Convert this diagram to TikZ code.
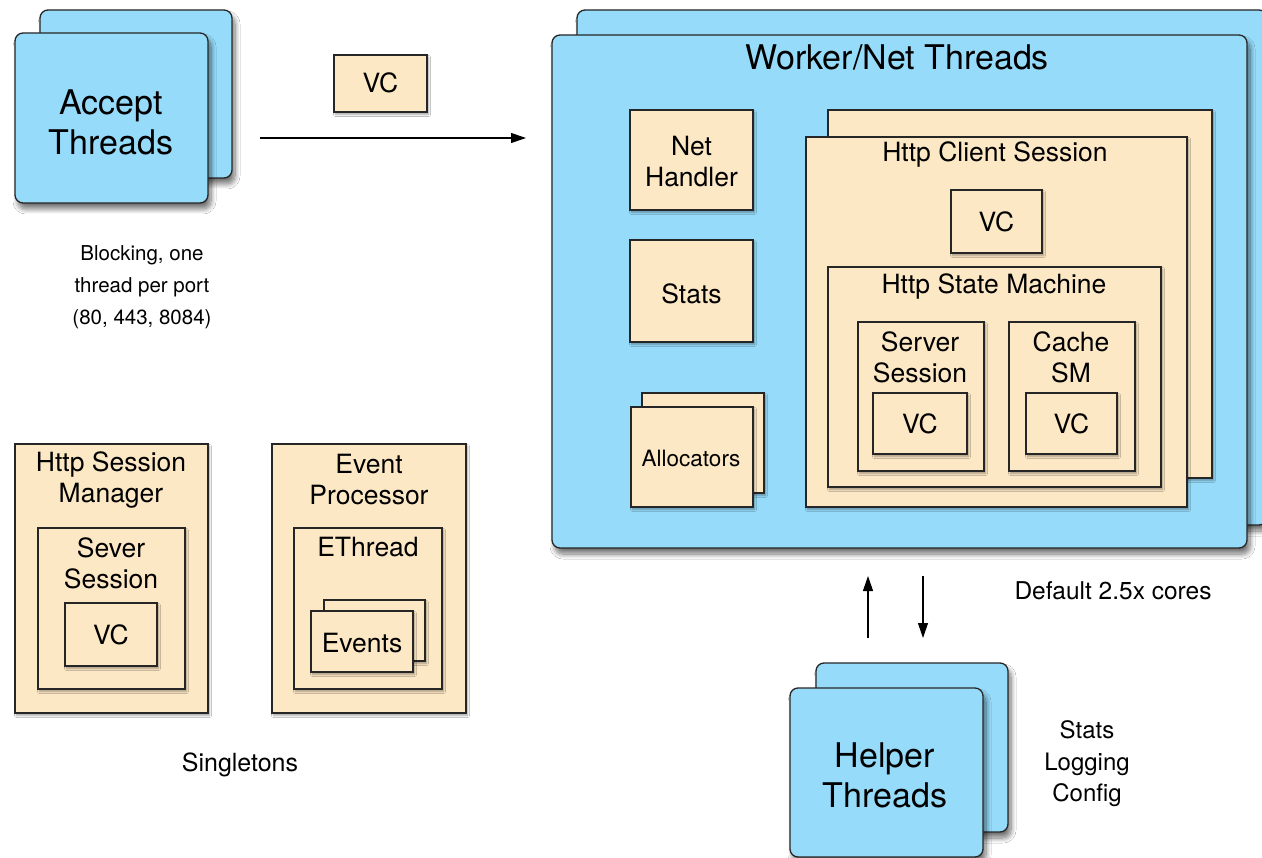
\documentclass[tikz,border=0pt]{standalone}
\usepackage{fontspec}
\setmainfont{TeX Gyre Heros}
\usetikzlibrary{arrows.meta,shadows.blur}
\definecolor{blueC}{RGB}{150,219,250}
\definecolor{beigeC}{RGB}{253,232,197}
\tikzset{
  bluebox/.style={draw=black!85, fill=blueC, rounded corners=8pt, line width=1.3pt, inner sep=0pt, outer sep=0pt, anchor=north west,
    blur shadow={shadow xshift=3pt, shadow yshift=-6pt, shadow blur steps=10, shadow opacity=55, shadow blur radius=5pt}},
  beigebox/.style={draw=black!85, fill=beigeC, line width=1.1pt, inner sep=0pt, outer sep=0pt, anchor=north west,
    blur shadow={shadow xshift=1.5pt, shadow yshift=-2.5pt, shadow blur steps=5, shadow opacity=35, shadow blur radius=2pt}},
  bigtxt/.style={align=center, font=\fontsize{34}{40}\selectfont, inner sep=0pt},
  midtxt/.style={align=center, font=\fontsize{26.5}{31}\selectfont, inner sep=0pt},
  smalltxt/.style={align=center, font=\fontsize{24.5}{32}\selectfont, inner sep=0pt},
  flow/.style={line width=1.1pt, -{Triangle[length=15pt,width=10pt]}},
}
\begin{document}
\begin{tikzpicture}[x=1pt,y=-1pt]
\fill[white] (0,0) rectangle (1262,858);
\useasboundingbox (0,0) rectangle (1262,858);
\begin{scope}
\clip (0,0) rectangle (1262,858);
% Accept threads
\node[bluebox, minimum width=192pt, minimum height=168pt] (acceptBack) at (40,10) {};
\node[bluebox, minimum width=193pt, minimum height=170pt] (acceptFront) at (15,33) {};
\node[bigtxt] (acceptTxt) at (111,122) {Accept\\Threads};
\node[beigebox, minimum width=93pt, minimum height=57pt] (vcTop) at (334,55) {};
\node[midtxt] (vcTopTxt) at (380.5,83) {VC};
\node[smalltxt, font=\fontsize{20.5}{32}\selectfont] (blockTxt) at (142,287) {Blocking, one\\thread per port\\(80, 443, 8084)};

% Worker threads
\node[bluebox, minimum width=690pt, minimum height=515pt] (workerBack) at (577,10) {};
\node[bluebox, minimum width=695pt, minimum height=513pt] (workerFront) at (552,35) {};
\node[bigtxt] (workerTxt) at (897,57) {Worker/Net Threads};

\node[beigebox, minimum width=123pt, minimum height=100pt] (netHandler) at (630,110) {};
\node[midtxt] (netHandlerTxt) at (691.5,162) {Net\\Handler};
\node[beigebox, minimum width=123pt, minimum height=102pt] (stats) at (630,240) {};
\node[midtxt] (statsTxt) at (691.5,294) {Stats};
\node[beigebox, minimum width=122pt, minimum height=100pt] (allocBack) at (642,393) {};
\node[beigebox, minimum width=122pt, minimum height=100pt] (allocFront) at (631,407) {};
\node[smalltxt, font=\fontsize{22.5}{30}\selectfont] (allocTxt) at (691,458) {Allocators};

\node[beigebox, minimum width=384pt, minimum height=368pt] (hcsBack) at (828,110) {};
\node[beigebox, minimum width=381pt, minimum height=370pt] (hcsFront) at (806,137) {};
\node[midtxt] (hcsTxt) at (995,154) {Http Client Session};
\node[beigebox, minimum width=91pt, minimum height=63pt] (vcHcs) at (951,190) {};
\node[midtxt] (vcHcsTxt) at (996.5,222) {VC};
\node[beigebox, minimum width=333pt, minimum height=220pt] (hsm) at (828,267) {};
\node[midtxt] (hsmTxt) at (994,286) {Http State Machine};
\node[beigebox, minimum width=126pt, minimum height=149pt] (ss) at (858,322) {};
\node[midtxt] (ssTxt) at (920,357) {Server\\Session};
\node[beigebox, minimum width=94pt, minimum height=61pt] (vcSs) at (873,393) {};
\node[midtxt] (vcSsTxt) at (920,424) {VC};
\node[beigebox, minimum width=126pt, minimum height=149pt] (cache) at (1009,322) {};
\node[midtxt] (cacheTxt) at (1071,357) {Cache\\SM};
\node[beigebox, minimum width=91pt, minimum height=61pt] (vcCache) at (1026,393) {};
\node[midtxt] (vcCacheTxt) at (1071.5,424) {VC};

% Singletons
\node[beigebox, minimum width=193pt, minimum height=269pt] (hsmgr) at (15,444) {};
\node[midtxt] (hsmgrTxt) at (111,480) {Http Session\\Manager};
\node[beigebox, minimum width=147pt, minimum height=161pt] (sever) at (38,528) {};
\node[midtxt] (severTxt) at (111,563) {Sever\\Session};
\node[beigebox, minimum width=92pt, minimum height=63pt] (vcSever) at (65,603) {};
\node[midtxt] (vcSeverTxt) at (111,635) {VC};

\node[beigebox, minimum width=194pt, minimum height=269pt] (evp) at (272,444) {};
\node[midtxt] (evpTxt) at (369,480) {Event\\Processor};
\node[beigebox, minimum width=148pt, minimum height=161pt] (ethread) at (294,528) {};
\node[midtxt] (ethreadTxt) at (368,547) {EThread};
\node[beigebox, minimum width=101pt, minimum height=61pt] (eventsBack) at (324,600) {};
\node[beigebox, minimum width=102pt, minimum height=61pt] (eventsFront) at (311,611) {};
\node[midtxt] (eventsTxt) at (362,643) {Events};
\node[smalltxt, font=\fontsize{25}{32}\selectfont] (singTxt) at (240,765) {Singletons};

% Helper threads
\node[bluebox, minimum width=192pt, minimum height=169pt] (helperBack) at (816,663) {};
\node[bluebox, minimum width=193pt, minimum height=169pt] (helperFront) at (790,688) {};
\node[bigtxt] (helperTxt) at (885,775) {Helper\\Threads};
\node[smalltxt] (defaultTxt) at (1113,591) {Default 2.5x cores};
\node[smalltxt, font=\fontsize{24}{31.5}\selectfont] (slcTxt) at (1087,764) {Stats\\Logging\\Config};

% arrows
\coordinate (a1) at (260,138);
\coordinate (a2) at (526,138);
\draw[flow] (a1) -- (a2);
\coordinate (u1) at (868,638);
\coordinate (u2) at (868,576);
\draw[flow] (u1) -- (u2);
\coordinate (d1) at (923,576);
\coordinate (d2) at (923,638);
\draw[flow] (d1) -- (d2);
\end{scope}
\end{tikzpicture}
\end{document}
